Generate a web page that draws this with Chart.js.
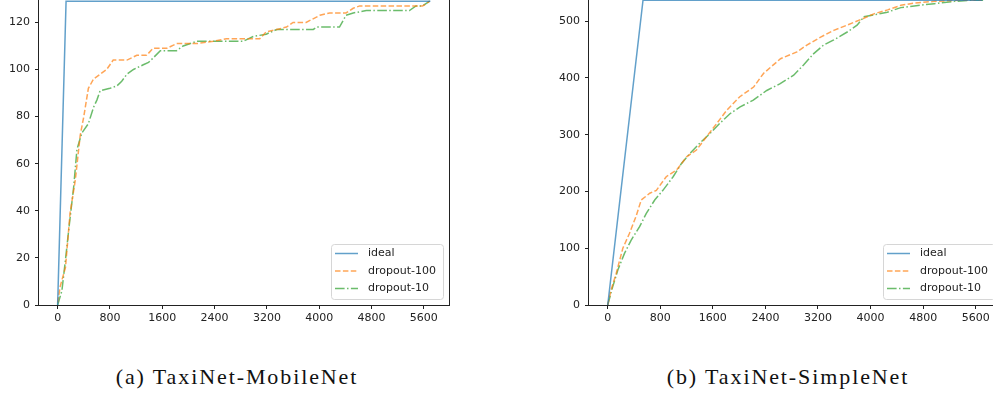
<!DOCTYPE html>
<html>
<head>
<meta charset="utf-8">
<script src="https://cdn.jsdelivr.net/npm/chart.js@4.4.0/dist/chart.umd.min.js"></script>
<style>
    html, body { margin: 0; padding: 0; background: #fff; width: 993px; height: 398px; overflow: hidden; position: relative; }
    canvas { position: absolute; }
    .caption {
        position: absolute; width: 340px; text-align: center;
        font-family: "Liberation Serif", serif; font-size: 22px; line-height: 22px;
        letter-spacing: 1.9px; color: #111; white-space: nowrap;
    }
</style>
</head>
<body>
<canvas id="chartA" width="460" height="345" style="left:0;top:-14px"></canvas>
<canvas id="chartB" width="470" height="346" style="left:540px;top:-15px"></canvas>
<div class="caption" style="left:67px;top:366px">(a) TaxiNet-MobileNet</div>
<div class="caption" style="left:618px;top:366px">(b) TaxiNet-SimpleNet</div>

<script>
// shared ticks
const seriesLabels = ['ideal', 'dropout-100', 'dropout-10'];
const xTicks = [0, 800, 1600, 2400, 3200, 4000, 4800, 5600];

// (a) TaxiNet-MobileNet
const mobileYTicks = [0, 20, 40, 60, 80, 100, 120];
const mobileIdealX = [0, 129, 5700];
const mobileIdealY = [0, 129, 129];
const mobileD100X = [0, 40, 120, 190, 270, 345, 400, 470, 550, 650, 750, 850, 1060, 1210, 1360, 1460, 1670, 1820, 2130, 2380, 2580, 3090, 3190, 3350, 3500, 3600, 3800, 4010, 4160, 4410, 4520, 4620, 5580, 5640, 5690];
const mobileD100Y = [1, 8, 16, 39, 53, 72, 80, 92, 96, 98, 100, 104, 104, 106, 106, 109, 109, 111, 111, 112, 113, 113, 116, 117, 118, 120, 120, 123, 124, 124, 126, 127, 127, 128, 129];
const mobileD10X = [0, 65, 115, 170, 245, 295, 370, 470, 550, 600, 650, 800, 905, 980, 1060, 1160, 1310, 1390, 1465, 1570, 1820, 1920, 2130, 2280, 2480, 2840, 2990, 3190, 3350, 3550, 3910, 3960, 4310, 4410, 4520, 4720, 5380, 5480, 5580, 5690];
const mobileD10Y = [0, 6, 18, 32, 50, 66, 73, 77, 84, 87, 91, 92, 93, 95, 98, 100, 102, 103, 105, 108, 108, 110, 112, 112, 112, 112, 114, 115, 117, 117, 117, 118, 118, 123, 124, 125, 125, 127, 127, 129];

// (b) TaxiNet-SimpleNet
const simpleYTicks = [0, 100, 200, 300, 400, 500];
const simpleIdealX = [0, 537, 5700];
const simpleIdealY = [0, 537, 537];
const simpleD100X = [0, 50, 130, 230, 330, 430, 510, 640, 740, 890, 1050, 1200, 1350, 1500, 1660, 1810, 2010, 2220, 2370, 2520, 2630, 2880, 3030, 3240, 3440, 3640, 3850, 4050, 4260, 4460, 4660, 4970, 5330, 5690];
const simpleD100Y = [0, 26, 56, 100, 126, 156, 185, 197, 202, 226, 238, 261, 273, 296, 320, 343, 367, 384, 408, 423, 434, 446, 458, 472, 484, 493, 503, 513, 520, 528, 532, 535, 537, 537];
const simpleD10X = [0, 75, 155, 255, 355, 485, 585, 715, 840, 995, 1120, 1250, 1400, 1555, 1705, 1860, 2015, 2215, 2420, 2625, 2830, 2980, 3135, 3285, 3440, 3645, 3795, 3900, 4050, 4255, 4460, 4665, 4970, 5275, 5530, 5730];
const simpleD10Y = [0, 32, 62, 91, 114, 138, 161, 185, 202, 226, 249, 267, 285, 302, 320, 337, 349, 361, 378, 390, 405, 423, 443, 458, 467, 481, 493, 508, 511, 516, 524, 527, 531, 535, 537, 537];

const lineStyles = [
    { color: 'rgba(31,119,180,0.7)', dash: [] },
    { color: 'rgba(255,127,14,0.7)', dash: [5.5, 2.4] },
    { color: 'rgba(44,160,44,0.7)', dash: [9.6, 2.4, 1.5, 2.4] }
];

const zip = (xs, ys) => xs.map((x, i) => ({ x: x, y: ys[i] }));

// axes frame drawn like matplotlib spines
const spines = {
    id: 'spines',
    afterDatasetsDraw(chart) {
        const { ctx, chartArea: a } = chart;
        ctx.save();
        ctx.strokeStyle = '#222';
        ctx.lineWidth = 1;
        ctx.strokeRect(a.left - 0.5, a.top - 0.5, a.right - a.left + 1, a.bottom - a.top + 1);
        ctx.restore();
    }
};

// legend in lower right corner of the axes
const cornerLegend = {
    id: 'cornerLegend',
    afterDraw(chart) {
        const { ctx, chartArea: a } = chart;
        const w = 112, h = 55;
        const x = a.right - 6 - w, y = a.bottom - 6 - h;
        ctx.save();
        ctx.beginPath();
        ctx.roundRect(x + 0.5, y + 0.5, w, h, 3);
        ctx.fillStyle = 'rgba(255,255,255,0.8)';
        ctx.fill();
        ctx.strokeStyle = '#d6d6d6';
        ctx.lineWidth = 1;
        ctx.stroke();
        ctx.font = '11px "DejaVu Sans"';
        ctx.textBaseline = 'middle';
        chart.data.datasets.forEach((ds, i) => {
            const ly = y + 9.5 + i * 17.5;
            ctx.beginPath();
            ctx.setLineDash(ds.borderDash);
            ctx.strokeStyle = ds.borderColor;
            ctx.lineWidth = ds.borderWidth;
            ctx.moveTo(x + 4, ly);
            ctx.lineTo(x + 27, ly);
            ctx.stroke();
            ctx.setLineDash([]);
            ctx.fillStyle = '#222';
            ctx.fillText(ds.label, x + 37, ly);
        });
        ctx.restore();
    }
};

function makeChart(id, xsList, ysList, yTicks, axisWidth, padRight) {
    const datasets = xsList.map((xs, i) => ({
        label: seriesLabels[i],
        data: zip(xs, ysList[i]),
        borderColor: lineStyles[i].color,
        borderDash: lineStyles[i].dash,
        borderWidth: 1.5,
        pointRadius: 0,
        fill: false,
        tension: 0
    }));

    // matplotlib style 5% margins (y starts at 0)
    const xEnd = xsList[0][xsList[0].length - 1];
    const yPeak = Math.max(...ysList[0]);

    const tickStyle = { color: '#222', font: { family: 'DejaVu Sans', size: 11 } };
    const gridStyle = { drawOnChartArea: false, drawTicks: true, tickLength: 4, tickColor: '#222', tickWidth: 1 };

    return new Chart(document.getElementById(id), {
        type: 'line',
        data: { datasets: datasets },
        options: {
            responsive: false,
            animation: false,
            events: [],
            layout: { padding: { left: 0, right: padRight, top: 0, bottom: 0 } },
            plugins: { legend: { display: false }, tooltip: { enabled: false } },
            scales: {
                x: {
                    type: 'linear',
                    min: -0.05 * xEnd,
                    max: 1.05 * xEnd,
                    grid: gridStyle,
                    border: { display: false },
                    ticks: Object.assign({ padding: 3, maxRotation: 0, callback: (v) => String(v) }, tickStyle),
                    afterBuildTicks: (scale) => { scale.ticks = xTicks.map((v) => ({ value: v })); },
                    afterFit: (scale) => {
                        scale.height = 26;
                        scale.paddingLeft = 0;
                        scale.paddingRight = 0;
                    }
                },
                y: {
                    type: 'linear',
                    min: 0,
                    max: 1.05 * yPeak,
                    grid: gridStyle,
                    border: { display: false },
                    ticks: Object.assign({ padding: 5, callback: (v) => String(v) }, tickStyle),
                    afterBuildTicks: (scale) => { scale.ticks = yTicks.map((v) => ({ value: v })); },
                    afterFit: (scale) => {
                        scale.width = axisWidth;
                        scale.paddingTop = 0;
                        scale.paddingBottom = 0;
                    }
                }
            }
        },
        plugins: [spines, cornerLegend]
    });
}

makeChart('chartA',
    [mobileIdealX, mobileD100X, mobileD10X],
    [mobileIdealY, mobileD100Y, mobileD10Y],
    mobileYTicks, 39, 11);

makeChart('chartB',
    [simpleIdealX, simpleD100X, simpleD10X],
    [simpleIdealY, simpleD100Y, simpleD10Y],
    simpleYTicks, 49, 9);
</script>
</body>
</html>
